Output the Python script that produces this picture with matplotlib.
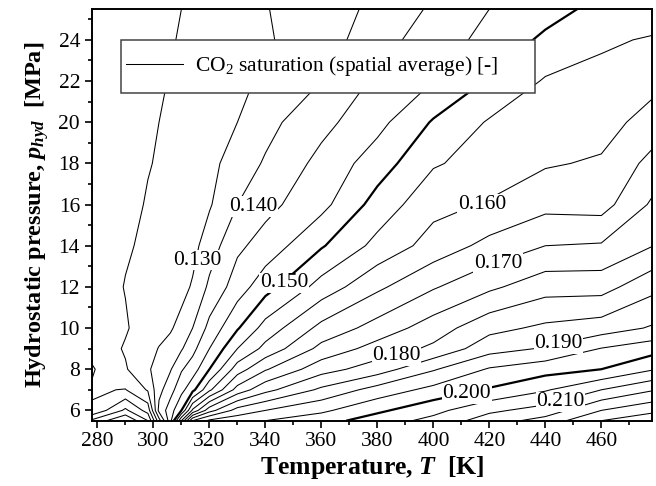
import numpy as np
import matplotlib.pyplot as plt
from matplotlib.lines import Line2D
from matplotlib.patches import Rectangle
from matplotlib.ticker import MultipleLocator

plt.rcParams['font.family'] = 'Liberation Serif'
plt.rcParams['mathtext.fontset'] = 'custom'
plt.rcParams['mathtext.rm'] = 'Liberation Serif'
plt.rcParams['mathtext.it'] = 'Liberation Serif:italic'
plt.rcParams['mathtext.bf'] = 'Liberation Serif:bold'
plt.rcParams['mathtext.bfit'] = 'Liberation Serif:italic:bold'

# grid
temperature = [278, 290, 298, 302, 306, 310, 314, 320, 330, 340, 360, 380, 400, 420, 440, 460, 478]
pressure = [5.5, 6, 7, 8, 9, 10, 12, 14, 16, 18, 20, 22, 24, 25.5]

# CO2 saturation, one row per pressure
saturation = [
    [0.109, 0.100, 0.110, 0.128, 0.143, 0.165, 0.185, 0.191, 0.193, 0.195, 0.198, 0.2025, 0.2065, 0.2125, 0.217, 0.225, 0.2285],
    [0.1195, 0.109, 0.117, 0.1365, 0.1425, 0.150, 0.166, 0.178, 0.187, 0.190, 0.194, 0.199, 0.2035, 0.209, 0.212, 0.220, 0.2237],
    [0.1205, 0.1198, 0.1255, 0.1335, 0.138, 0.1435, 0.1485, 0.159, 0.172, 0.1785, 0.186, 0.192, 0.1965, 0.2005, 0.2045, 0.210, 0.2145],
    [0.1195, 0.1245, 0.1295, 0.1315, 0.1345, 0.1395, 0.1425, 0.150, 0.1625, 0.1695, 0.178, 0.1825, 0.1895, 0.1955, 0.198, 0.200, 0.2045],
    [0.1215, 0.1255, 0.1285, 0.1302, 0.1315, 0.1345, 0.1385, 0.145, 0.155, 0.1615, 0.1715, 0.177, 0.181, 0.188, 0.1905, 0.1952, 0.1978],
    [0.122, 0.1245, 0.1275, 0.1285, 0.1295, 0.1315, 0.135, 0.1415, 0.1495, 0.157, 0.1665, 0.172, 0.1775, 0.1835, 0.186, 0.1875, 0.1905],
    [0.1222, 0.1252, 0.1265, 0.127, 0.1275, 0.1285, 0.1305, 0.136, 0.1425, 0.148, 0.157, 0.164, 0.1695, 0.174, 0.178, 0.178, 0.1835],
    [0.122, 0.1245, 0.1258, 0.1262, 0.127, 0.1275, 0.1285, 0.1325, 0.139, 0.142, 0.1495, 0.1565, 0.162, 0.1665, 0.170, 0.1705, 0.1748],
    [0.1218, 0.1238, 0.1253, 0.1258, 0.1262, 0.1268, 0.127, 0.1295, 0.135, 0.1385, 0.1435, 0.152, 0.1585, 0.1605, 0.1635, 0.163, 0.1707],
    [0.1215, 0.1232, 0.1248, 0.1253, 0.1258, 0.1262, 0.1266, 0.1285, 0.1325, 0.1355, 0.1415, 0.1475, 0.1545, 0.157, 0.1595, 0.1606, 0.1665],
    [0.1212, 0.1228, 0.1243, 0.125, 0.1255, 0.1258, 0.1264, 0.1275, 0.130, 0.1335, 0.1385, 0.1435, 0.1505, 0.1555, 0.1575, 0.158, 0.162],
    [0.121, 0.1225, 0.1238, 0.1245, 0.1252, 0.1255, 0.1262, 0.1265, 0.128, 0.1315, 0.135, 0.141, 0.145, 0.1505, 0.1555, 0.156, 0.1584],
    [0.1208, 0.1222, 0.1233, 0.124, 0.1248, 0.1252, 0.1258, 0.126, 0.1265, 0.1295, 0.1325, 0.138, 0.1425, 0.1465, 0.151, 0.1545, 0.1553],
    [0.1205, 0.122, 0.123, 0.1235, 0.1245, 0.125, 0.1255, 0.1255, 0.1265, 0.1298, 0.1325, 0.1362, 0.1408, 0.145, 0.148, 0.1515, 0.1532],
]

levels = [0.100, 0.105, 0.110, 0.115, 0.120, 0.125, 0.130, 0.135, 0.140, 0.145, 0.150, 0.155,
          0.160, 0.165, 0.170, 0.175, 0.180, 0.185, 0.190, 0.195, 0.200, 0.205, 0.210, 0.215,
          0.220, 0.225]
bold_levels = [0.150, 0.200]

label_levels = [0.130, 0.140, 0.150, 0.160, 0.170, 0.180, 0.190, 0.200, 0.210]
label_spots = [(315.5, 13.3), (335.8, 15.9), (346.7, 12.2), (417.3, 16.0), (423.2, 13.15),
               (386.8, 8.66), (444.7, 9.25), (411.9, 6.82), (445.4, 6.41)]

fig = plt.figure(figsize=(6.56, 4.86), dpi=100)
ax = fig.add_axes([0.140, 0.1344, 0.8535, 0.847])

widths = [1.6 if any(np.isclose(lev, b) for b in bold_levels) else 0.75 for lev in levels]
cs = ax.contour(temperature, pressure, saturation, levels=levels, colors='black', linewidths=widths)

# horizontal labels sitting on the lines, white box hides the line below
for lev, (tx, py) in zip(label_levels, label_spots):
    ax.text(tx, py, f'{lev:.3f}', fontsize=15.5, ha='center', va='center', zorder=4,
            bbox=dict(facecolor='white', edgecolor='none', pad=0.5))

ax.set_xlim(278, 478)
ax.set_ylim(5.5, 25.5)
ax.xaxis.set_major_locator(MultipleLocator(20))
ax.xaxis.set_minor_locator(MultipleLocator(10))
ax.yaxis.set_major_locator(MultipleLocator(2))
ax.yaxis.set_minor_locator(MultipleLocator(1))
ax.tick_params(which='both', direction='out', top=False, right=False, width=1.2, labelsize=15.5)
ax.tick_params(which='major', length=5)
ax.tick_params(which='minor', length=3)
for s in ax.spines.values():
    s.set_linewidth(1.4)

ax.set_xlabel(r'Temperature, $\mathbfit{T}$  [K]', fontsize=18.5, fontweight='bold', labelpad=2)
ax.set_ylabel(r'Hydrostatic pressure, $\mathbfit{p}_{\mathbfit{hyd}}$  [MPa]', fontsize=17.5,
              fontweight='bold', labelpad=5)

# legend box is wider than its text in the original, so draw the frame separately
ax.add_patch(Rectangle((0.0513, 0.7967), 0.7402, 0.128, transform=ax.transAxes,
                       facecolor='white', edgecolor='#444444', lw=1.1, zorder=5))
handle = Line2D([], [], color='black', lw=0.75)
leg = ax.legend([handle], [r'CO$_2$ saturation (spatial average) [-]'], loc='center left',
                bbox_to_anchor=(0.0607, 0.8615), borderaxespad=0, borderpad=0, frameon=False,
                fontsize=15.5, handlelength=2.65, handletextpad=0.56)
leg.set_zorder(6)

fig.savefig('out.png', dpi=100)
